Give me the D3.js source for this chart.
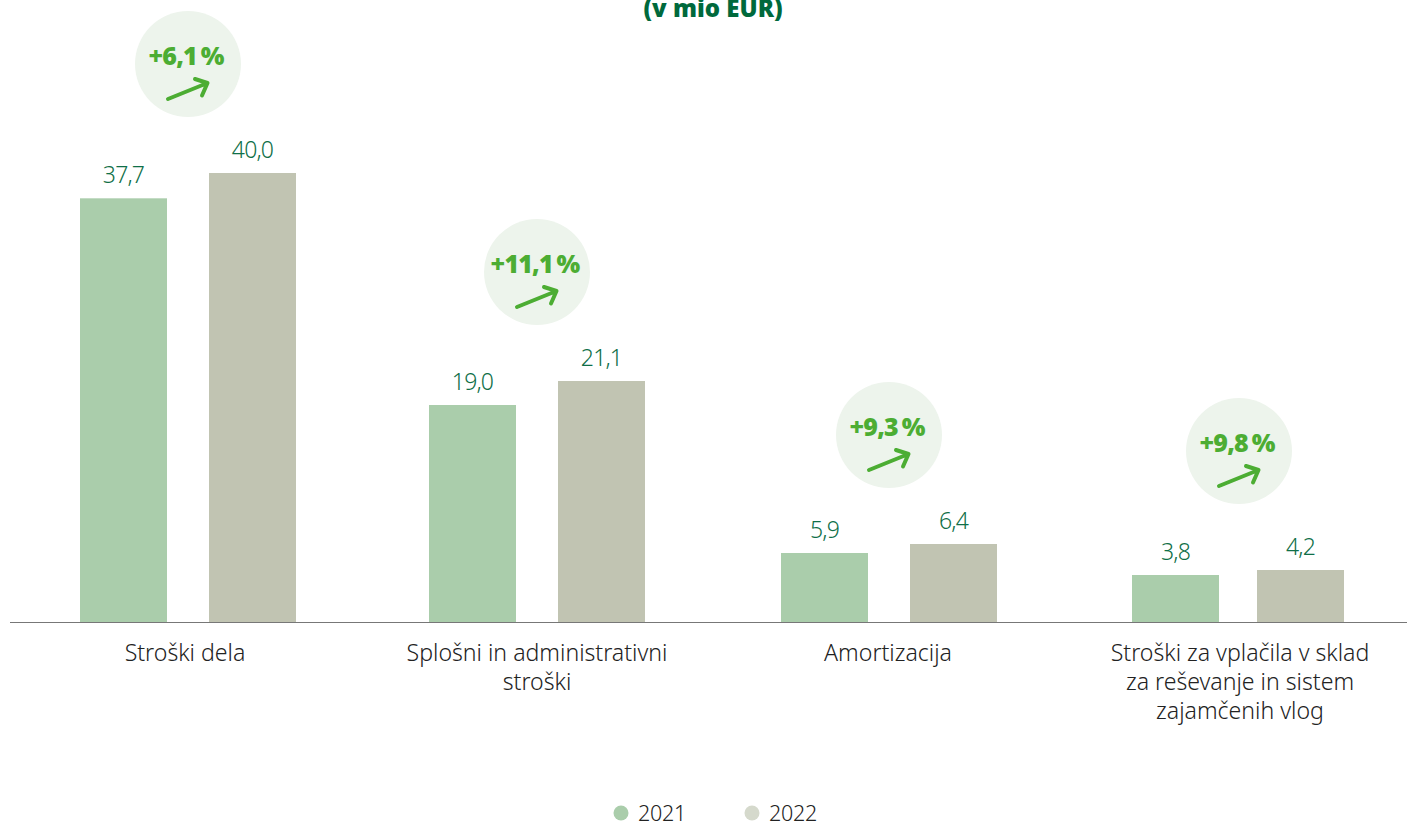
<!DOCTYPE html>
<html>
<head>
<meta charset="utf-8">
<script src="https://cdn.jsdelivr.net/npm/d3@7"></script>
<style>
  html, body { margin: 0; padding: 0; background: #fff; overflow: hidden; }
  text { font-family: "Noto Sans", sans-serif; }
</style>
</head>
<body>
<div class="cost-chart"></div>
<script>
const categories = [
  ["Stroški dela"],
  ["Splošni in administrativni", "stroški"],
  ["Amortizacija"],
  ["Stroški za vplačila v sklad", "za reševanje in sistem", "zajamčenih vlog"]
];
const years = ["2021", "2022"];
const values2021 = [37.7, 19.0, 5.9, 3.8];
const values2022 = [40.0, 21.1, 6.4, 4.2];
const changes = ["+6,1 %", "+11,1 %", "+9,3 %", "+9,8 %"];

const width = 1407;
const height = 823;
const baseline = 622.5;
const barWidth = 87;
const colors = ["#aacdab", "#c1c4b2"];
const legendColors = ["#aacdab", "#d5d9cc"];
const fmt = d => d.toFixed(1).replace(".", ",");

/*Source layout is slightly uneven, so the groups are placed by hand*/
const groupCenters = [188, 537, 889, 1238];
const barOffsets = [64.5, 64.5, 64.5, 62.5];
const labelShift = [-3, 0, -1, 2];
const bubbleShift = [0, 0, 0, 1];
const lift = [109, 109, 109, 119];

const svg = d3.select(".cost-chart").append("svg")
    .attr("width", width)
    .attr("height", height)
    .attr("viewBox", [0, 0, width, height])
    .style("display", "block");

const x = d3.scaleOrdinal()
    .domain(d3.range(categories.length))
    .range(groupCenters);

// the source bars are not quite proportional to their labels, small ones are drawn taller
const y = d3.scaleLinear()
    .domain([0, 4.2, 5.9, 6.4, 19, 21.1, 40])
    .range([0, 52.5, 69.5, 78.5, 217.5, 241.5, 449.5].map(h => baseline - h));

/*Title, cut by the top edge in the source*/
svg.append("text")
    .attr("x", 713)
    .attr("y", 17)
    .attr("text-anchor", "middle")
    .attr("font-size", 24)
    .attr("font-weight", 900)
    .attr("fill", "#00693c")
    .text("(v mio EUR)");

const groups = svg.append("g")
    .selectAll("g")
    .data(categories)
    .join("g")
    .attr("transform", (d, i) => `translate(${x(i)},0)`);

/*Bars and value labels*/
[values2021, values2022].forEach((series, s) => {
  const barCenter = i => (s === 0 ? -1 : 1) * barOffsets[i];

  groups.append("rect")
      .attr("x", (d, i) => barCenter(i) - barWidth / 2)
      .attr("width", barWidth)
      .attr("y", (d, i) => y(series[i]))
      .attr("height", (d, i) => baseline - y(series[i]))
      .attr("fill", colors[s]);

  groups.append("text")
      .attr("x", (d, i) => barCenter(i))
      .attr("y", (d, i) => y(series[i]) - 15)
      .attr("text-anchor", "middle")
      .attr("font-size", 23)
      .attr("font-weight", 300)
      .attr("letter-spacing", -0.8)
      .attr("fill", "#0f6f48")
      .text((d, i) => fmt(series[i]));
});

/*Axis line*/
svg.append("line")
    .attr("x1", 10)
    .attr("x2", width)
    .attr("y1", baseline)
    .attr("y2", baseline)
    .attr("stroke", "#777")
    .attr("stroke-width", 1.2);

/*Category labels*/
groups.append("text")
    .attr("text-anchor", "middle")
    .attr("font-size", 23.1)
    .attr("font-weight", 300)
    .attr("fill", "#222")
    .each(function(lines, i) {
      d3.select(this).selectAll("tspan")
          .data(lines)
          .join("tspan")
          .attr("x", labelShift[i])
          .attr("y", (d, j) => 661 + j * 29)
          .text(d => d);
    });

/*Change bubbles*/
const bubbles = groups.append("g")
    .attr("transform", (d, i) => `translate(${bubbleShift[i]},${y(values2022[i]) - lift[i]})`);

bubbles.append("circle")
    .attr("r", 53)
    .attr("fill", "#edf4ec");

bubbles.append("text")
    .attr("x", -2)
    .attr("y", 1)
    .attr("text-anchor", "middle")
    .attr("font-size", 25)
    .attr("font-weight", 900)
    .attr("letter-spacing", -0.8)
    .attr("word-spacing", -2)
    .attr("fill", "#4cad33")
    .text((d, i) => changes[i]);

bubbles.append("path")
    .attr("d", "M-20,35L19.5,19M7,15L19.5,19L14,31.5")
    .attr("fill", "none")
    .attr("stroke", "#4cad33")
    .attr("stroke-width", 4)
    .attr("stroke-linecap", "round")
    .attr("stroke-linejoin", "round");

/*Legend*/
const legend = svg.append("g")
    .selectAll("g")
    .data(years)
    .join("g")
    .attr("transform", (d, i) => `translate(${621 + i * 131},813)`);

legend.append("circle")
    .attr("r", 7.5)
    .attr("fill", (d, i) => legendColors[i]);

legend.append("text")
    .attr("x", 17)
    .attr("y", 8)
    .attr("font-size", 21.5)
    .attr("font-weight", 300)
    .attr("letter-spacing", -0.3)
    .attr("fill", "#222")
    .text(d => d);
</script>
</body>
</html>
